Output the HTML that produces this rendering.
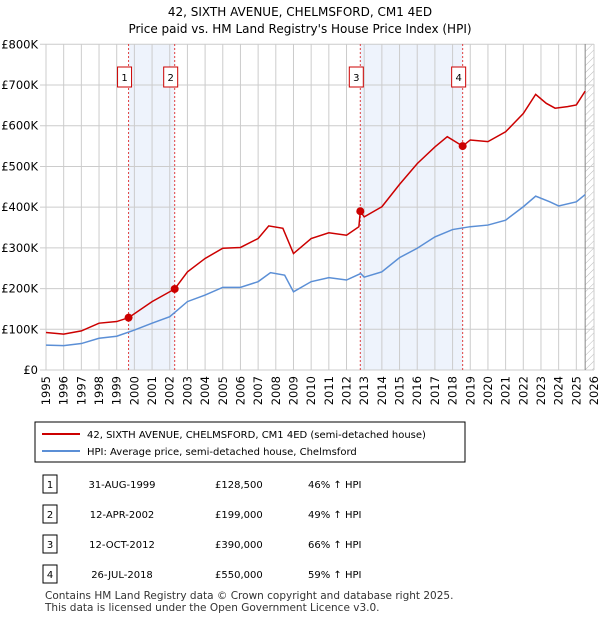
<!DOCTYPE html>
<html><head><meta charset="utf-8"><style>
body{margin:0;background:#fff;font-family:"Liberation Sans","DejaVu Sans",sans-serif;}
svg text{font-family:"DejaVu Sans","Liberation Sans",sans-serif;}
</style></head><body>
<svg width="600" height="620" xmlns="http://www.w3.org/2000/svg">
<defs><pattern id="hatch" width="5" height="5" patternUnits="userSpaceOnUse" patternTransform="rotate(45)"><line x1="0" y1="0" x2="0" y2="5" stroke="#bbb" stroke-width="1"/></pattern></defs>
<text x="300" y="16" font-size="12" text-anchor="middle">42, SIXTH AVENUE, CHELMSFORD, CM1 4ED</text>
<text x="300" y="33" font-size="12" text-anchor="middle">Price paid vs. HM Land Registry's House Price Index (HPI)</text>
<g id="plot"></g>
<rect x="35" y="422" width="430" height="40" fill="#fff" stroke="#000" stroke-width="1"/>
<line x1="42" y1="434" x2="80" y2="434" stroke="#cc0000" stroke-width="2"/>
<text x="87" y="438" font-size="10">42, SIXTH AVENUE, CHELMSFORD, CM1 4ED (semi-detached house)</text>
<line x1="42" y1="451" x2="80" y2="451" stroke="#5b8fd6" stroke-width="2"/>
<text x="87" y="455" font-size="10">HPI: Average price, semi-detached house, Chelmsford</text>
<g id="table" font-size="10"></g>
<text x="45" y="599" font-size="10.5" fill="#333">Contains HM Land Registry data © Crown copyright and database right 2025.</text>
<text x="45" y="611" font-size="10.5" fill="#333">This data is licensed under the Open Government Licence v3.0.</text>
</svg>
<script>
const years=[1995,1996,1997,1998,1999,2000,2001,2002,2003,2004,2005,2006,2007,2007.7,2008.5,2009,2010,2011,2012,2012.8,2013,2014,2015,2016,2017,2018,2019,2020,2021,2022,2022.7,2023.5,2024,2025,2025.5];
const hpiValues=[61,60,65,78,83,98,115,131,168,184,203,203,217,239,233,192,217,227,221,237,228,241,276,299,327,345,352,356,368,401,427,413,403,413,431];
const priceYears=[1995,1996,1997,1998,1999,1999.67,2001,2002.28,2003,2004,2005,2006,2007,2007.6,2008.4,2009,2010,2011,2012,2012.7,2012.78,2013,2014,2015,2016,2017,2017.7,2018.57,2019,2020,2021,2022,2022.7,2023.3,2023.8,2024.5,2025,2025.5];
const priceValues=[92,88,96,115,119,128.5,168,199,241,274,299,301,323,354,348,286,323,337,331,352,390,376,401,456,507,548,573,550,565,561,585,630,677,655,643,647,651,685];
const saleDates=[1999.67,2002.28,2012.78,2018.57];
const saleValues=[128.5,199,390,550];
const saleLabels=["1","2","3","4"];
const yTicks=[0,100,200,300,400,500,600,700,800];
const yTickLabels=["£0","£100K","£200K","£300K","£400K","£500K","£600K","£700K","£800K"];
const tableDates=["31-AUG-1999","12-APR-2002","12-OCT-2012","26-JUL-2018"];
const tablePrices=["£128,500","£199,000","£390,000","£550,000"];
const tableHpi=["46% ↑ HPI","49% ↑ HPI","66% ↑ HPI","59% ↑ HPI"];

const NS="http://www.w3.org/2000/svg";
const X=y=>46+(y-1995)*(594-46)/31;
const Y=v=>370-v*(370-44.3)/800;
const plot=document.getElementById('plot');
function mk(tag,attrs,parent){const e=document.createElementNS(NS,tag);for(const k in attrs)e.setAttribute(k,attrs[k]);(parent||plot).appendChild(e);return e;}
for(let i=0;i<4;i+=2){const r=mk('rect',{x:X(saleDates[i]),y:44,width:X(saleDates[i+1])-X(saleDates[i]),height:326,fill:'#eef3fc'});

}
const h=mk('rect',{x:X(2025.5),y:44,width:594-X(2025.5),height:326,fill:'url(#hatch)'});


for(let yr=1995;yr<=2026;yr++){const l=mk('line',{x1:X(yr),x2:X(yr),y1:44,y2:370,stroke:'#ccc','stroke-width':1});


const t=mk('text',{x:0,y:0,'font-size':11.5,'text-anchor':'end',transform:`translate(${X(yr)+4},376) rotate(-90)`});
t.textContent=yr;

}
yTicks.forEach((v,i)=>{const l=mk('line',{x1:40,x2:594,y1:Y(v),y2:Y(v),stroke:'#ccc','stroke-width':1});


const t=mk('text',{x:38,y:Y(v)+4,'font-size':11.5,'text-anchor':'end'});
t.textContent=yTickLabels[i];

});
const vl=mk('line',{x1:X(2025.5),x2:X(2025.5),y1:44,y2:370,stroke:'#888','stroke-width':1});


saleDates.forEach((d,i)=>{const l=mk('line',{x1:X(d),x2:X(d),y1:44,y2:370,stroke:'#e04040','stroke-width':1,'stroke-dasharray':'2,2'});


const bx=mk('rect',{x:X(d)-11,y:67,width:14,height:20,fill:'#fff',stroke:'#cc0000'});


const t=mk('text',{x:X(d)-4,y:81,'font-size':10,'text-anchor':'middle'});
t.textContent=saleLabels[i];

});
const hp=mk('polyline',{points:years.map((y,i)=>X(y)+','+Y(hpiValues[i])).join(' '),fill:'none',stroke:'#5b8fd6','stroke-width':1.5});


const pp=mk('polyline',{points:priceYears.map((y,i)=>X(y)+','+Y(priceValues[i])).join(' '),fill:'none',stroke:'#cc0000','stroke-width':1.5});


saleDates.forEach((d,i)=>{const c=mk('circle',{cx:X(d),cy:Y(saleValues[i]),r:4,fill:'#cc0000'});

});
const tb=document.getElementById('table');
tableDates.forEach((d,i)=>{const y=484+i*30;
const b=mk('rect',{x:43,y:y-9,width:14,height:18,fill:'#fff',stroke:'#000'},tb);


const n=mk('text',{x:50,y:y+4,'text-anchor':'middle'},tb);n.textContent=saleLabels[i];


const a=mk('text',{x:122,y:y+4,'text-anchor':'middle'},tb);a.textContent=d;


const p=mk('text',{x:215,y:y+4},tb);p.textContent=tablePrices[i];


const q=mk('text',{x:308,y:y+4},tb);q.textContent=tableHpi[i];

});
</script>
</body></html>
